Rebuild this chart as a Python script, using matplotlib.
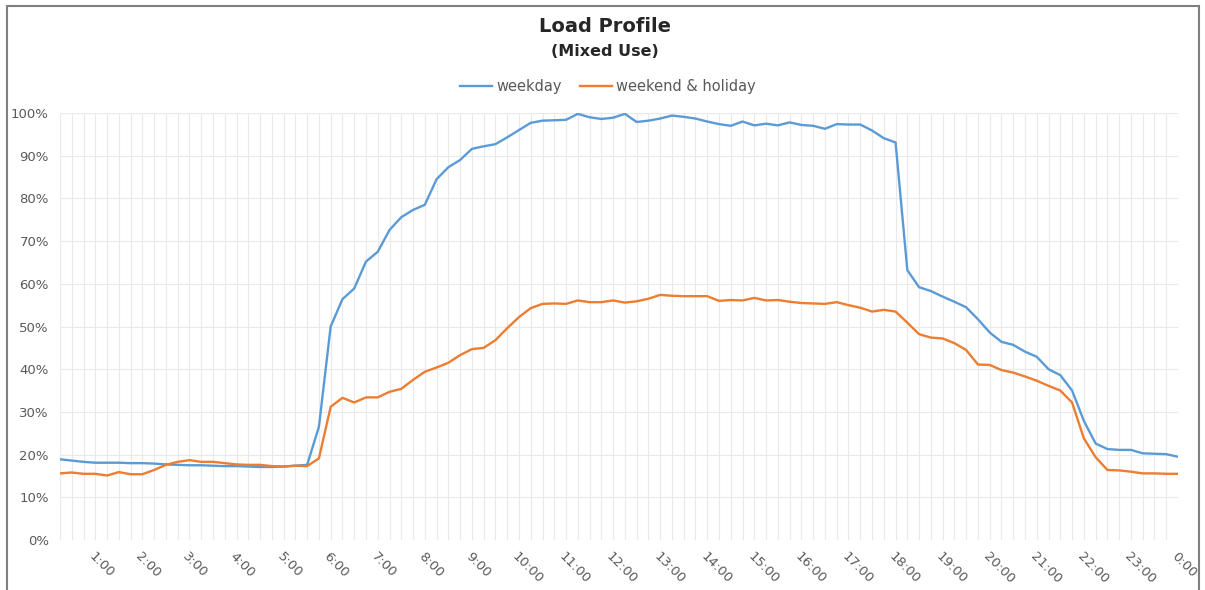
import matplotlib.pyplot as plt
from matplotlib.patches import Rectangle

# 15-minute steps, 0:15 ... 24:00
weekday = [18.9, 18.6, 18.3, 18.1, 18.1, 18.1, 18.0, 18.0, 17.9, 17.7,
           17.6, 17.5, 17.5, 17.4, 17.3, 17.3, 17.2, 17.1, 17.1, 17.2,
           17.4, 17.6, 26.5, 50.0, 56.4, 58.9, 65.2, 67.5, 72.6, 75.6,
           77.3, 78.5, 84.5, 87.3, 89.0, 91.6, 92.2, 92.7, 94.3, 96.0,
           97.7, 98.2, 98.3, 98.4, 99.8, 99.0, 98.6, 98.9, 99.8, 97.9,
           98.2, 98.7, 99.4, 99.1, 98.7, 98.0, 97.4, 97.0, 98.0, 97.1,
           97.5, 97.1, 97.8, 97.2, 97.0, 96.3, 97.4, 97.3, 97.3, 95.9,
           94.1, 93.1, 63.2, 59.2, 58.3, 57.0, 55.8, 54.5, 51.7, 48.6,
           46.4, 45.7, 44.1, 42.9, 40.0, 38.6, 35.0, 27.9, 22.6, 21.3,
           21.1, 21.1, 20.3, 20.2, 20.1, 19.5]
weekend = [15.6, 15.8, 15.5, 15.5, 15.1, 15.9, 15.4, 15.4, 16.4, 17.6,
           18.3, 18.7, 18.3, 18.3, 18.0, 17.7, 17.6, 17.6, 17.3, 17.2,
           17.4, 17.3, 19.1, 31.2, 33.3, 32.2, 33.4, 33.4, 34.7, 35.4,
           37.5, 39.4, 40.4, 41.5, 43.3, 44.7, 45.0, 46.8, 49.6, 52.2,
           54.3, 55.3, 55.4, 55.3, 56.1, 55.7, 55.7, 56.1, 55.6, 55.9,
           56.5, 57.4, 57.2, 57.1, 57.1, 57.1, 56.0, 56.2, 56.1, 56.7,
           56.1, 56.2, 55.8, 55.5, 55.4, 55.3, 55.7, 55.0, 54.4, 53.5,
           53.9, 53.5, 50.9, 48.2, 47.4, 47.2, 46.1, 44.5, 41.1, 41.0,
           39.8, 39.2, 38.3, 37.3, 36.1, 35.0, 32.2, 23.8, 19.4, 16.4,
           16.3, 16.0, 15.6, 15.6, 15.5, 15.5]
hour_labels = ['1:00', '2:00', '3:00', '4:00', '5:00', '6:00', '7:00', '8:00',
               '9:00', '10:00', '11:00', '12:00', '13:00', '14:00', '15:00',
               '16:00', '17:00', '18:00', '19:00', '20:00', '21:00', '22:00',
               '23:00', '0:00']

x = list(range(1, len(weekday) + 1))
grey = '#595959'

fig = plt.figure(figsize=(12.05, 5.90), dpi=100)
fig.patches.append(Rectangle((7 / 1205, -0.01), 1192 / 1205, 1 - 6 / 590 + 0.01,
                             transform=fig.transFigure, fill=False,
                             edgecolor='#7f7f7f', linewidth=1.5))
ax = fig.add_axes([60 / 1205, 50 / 590, 1118 / 1205, 427 / 590])

ax.plot(x, weekday, color='#5b9bd5', linewidth=1.7, label='weekday')
ax.plot(x, weekend, color='#ed7d31', linewidth=1.7, label='weekend & holiday')

ax.set_xlim(1, 96)
ax.set_ylim(0, 100)
ax.set_xticks(x, minor=True)
ax.set_xticks(x[3::4])
ax.set_xticklabels(hour_labels, rotation=-45, ha='left', va='top',
                   rotation_mode='anchor', color=grey, fontsize=9.5)
ax.set_yticks(range(0, 101, 10))
ax.set_yticklabels([f'{v}%' for v in range(0, 101, 10)], color=grey, fontsize=9.5)
ax.grid(True, which='both', color='#e9e9e9', linewidth=0.8)
ax.set_axisbelow(True)
ax.tick_params(which='both', length=0, pad=8)
ax.tick_params(axis='x', pad=7)
for s in ax.spines.values():
    s.set_visible(False)

fig.text(605 / 1205, 1 - 27 / 590, 'Load Profile', ha='center', va='center',
         fontsize=14, fontweight='bold', color='#262626')
fig.text(605 / 1205, 1 - 51 / 590, '(Mixed Use)', ha='center', va='center',
         fontsize=11.5, fontweight='bold', color='#262626')
fig.legend(loc='center', bbox_to_anchor=(608 / 1205, 1 - 87 / 590), ncol=2,
           frameon=False, fontsize=10.5, handlelength=2.2, columnspacing=1.2,
           handletextpad=0.3, labelcolor=grey)

fig.savefig('out.png', dpi=100)
